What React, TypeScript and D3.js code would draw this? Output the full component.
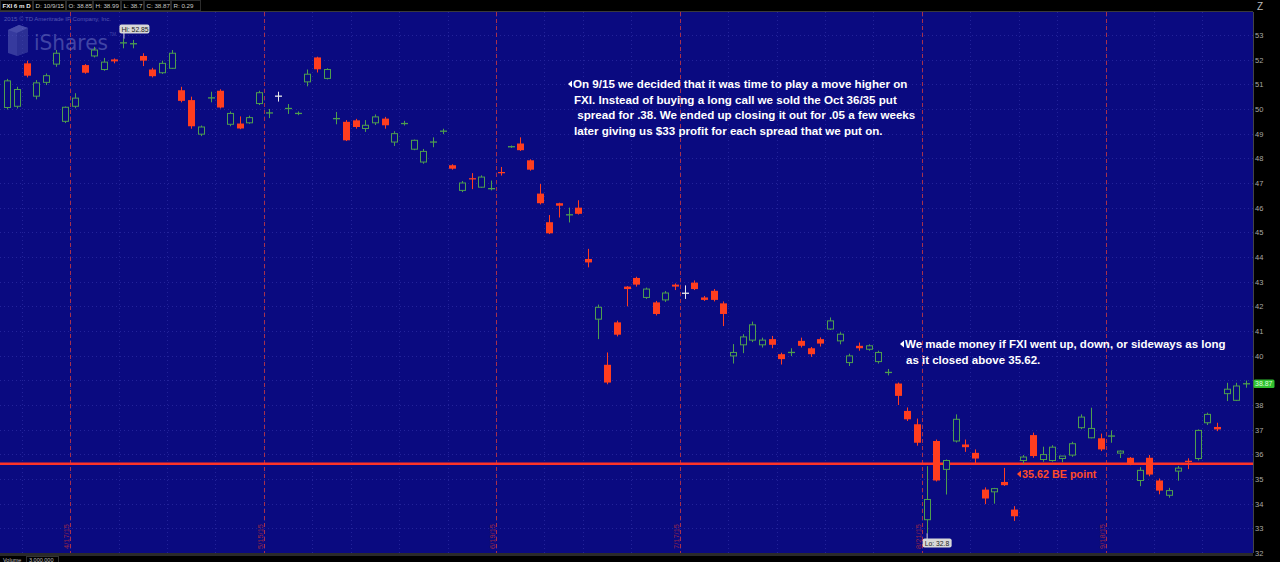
import React from 'react';
import * as d3 from 'd3';

const symbolTitle = 'FXI 6 m D';
const headerFields = ['D: 10/9/15', 'O: 38.85', 'H: 38.99', 'L: 38.7', 'C: 38.87', 'R: 0.29'];
const startDate = '2015-04-09';
const endDate = '2015-10-09';
const holidays = ['2015-05-25', '2015-07-03', '2015-09-07'];
const expirations = ['2015-04-17', '2015-05-15', '2015-06-19', '2015-07-17', '2015-08-21', '2015-09-18'];
const expirationLabels = ['4/17/15', '5/15/15', '6/19/15', '7/17/15', '8/21/15', '9/18/15'];

const opens = [
  50.06, 50.11, 51.85, 50.52, 51.08, 51.82, 49.5, 50.11, 51.78, 52.15,
  51.6, 52.01, 52.66, 52.63, 52.15, 51.6, 51.47, 51.65, 50.76, 50.36,
  48.98, 50.43, 50.74, 49.38, 49.41, 49.44, 50.22, 49.82, 50.52, 50.0,
  49.8, 51.1, 52.09, 51.24, 49.59, 49.48, 49.54, 49.21, 49.44, 49.61,
  48.66, 49.39, 48.37, 47.85, 48.64, 49.08, 47.72, 46.7, 47.19, 46.83,
  46.75, 47.44, 48.45, 48.6, 47.92, 46.57, 45.41, 46.18, 45.69, 46.0,
  43.92, 41.48, 39.63, 41.35, 42.8, 43.15, 42.36, 42.16, 42.26, 42.88,
  42.53, 42.96, 42.36, 42.63, 42.12, 39.99, 40.44, 40.63, 40.44, 40.67,
  40.06, 40.11, 40.6, 40.3, 40.67, 41.08, 40.6, 39.72, 40.4, 40.26,
  39.76, 39.3, 38.87, 37.76, 37.22, 33.35, 36.54, 35.39, 36.54, 36.4,
  36.06, 34.57, 34.48, 34.88, 33.76, 35.75, 36.78, 35.79, 35.75, 35.83,
  35.97, 37.08, 36.67, 36.65, 36.72, 36.05, 35.86, 34.94, 35.86, 34.94,
  34.34, 35.32, 35.75, 35.83, 37.28, 37.11, 38.46, 38.19, 38.85,
];
const highs = [
  51.22, 50.9, 51.96, 51.17, 51.44, 52.39, 50.1, 50.64, 51.82, 52.52,
  52.07, 52.05, 52.85, 52.8, 52.26, 51.67, 51.96, 52.39, 50.9, 50.5,
  49.33, 50.7, 50.8, 49.9, 49.7, 49.73, 50.74, 50.0, 50.7, 50.2,
  49.9, 51.6, 52.12, 51.65, 49.88, 49.55, 49.6, 49.55, 49.78, 49.68,
  49.1, 49.52, 48.76, 48.38, 48.85, 49.2, 47.76, 47.08, 47.4, 47.31,
  47.1, 47.65, 48.52, 48.85, 47.96, 46.96, 45.7, 46.2, 46.0, 46.3,
  44.33, 42.07, 40.13, 41.42, 42.82, 43.2, 42.76, 42.22, 42.62, 42.93,
  42.85, 43.05, 42.42, 42.7, 42.2, 40.47, 40.87, 41.38, 40.73, 40.8,
  40.12, 40.3, 40.73, 40.35, 40.74, 41.55, 40.95, 40.08, 40.53, 40.46,
  40.2, 39.46, 38.91, 37.9, 37.45, 35.52, 36.6, 35.79, 37.62, 36.6,
  36.2, 34.66, 34.64, 35.45, 33.9, 35.97, 36.88, 36.31, 36.37, 35.93,
  36.51, 37.62, 37.89, 36.84, 36.97, 36.16, 35.89, 35.48, 35.97, 35.02,
  34.64, 35.53, 35.84, 37.01, 37.69, 37.28, 38.9, 38.9, 38.99,
];
const lows = [
  49.98, 50.02, 51.28, 50.39, 50.97, 51.71, 49.43, 50.03, 51.43, 52.09,
  51.55, 51.85, 52.46, 52.46, 51.74, 51.28, 51.42, 51.62, 50.27, 49.2,
  48.9, 50.27, 50.02, 49.3, 49.18, 49.4, 50.16, 49.63, 50.3, 49.8,
  49.75, 50.92, 51.48, 51.2, 49.38, 48.7, 49.2, 49.07, 49.35, 49.2,
  48.5, 49.33, 48.33, 47.78, 48.45, 48.98, 47.54, 46.63, 46.75, 46.8,
  46.7, 47.3, 48.42, 48.3, 47.5, 46.13, 44.93, 45.6, 45.4, 45.72,
  43.58, 40.67, 38.84, 40.78, 42.0, 42.8, 42.3, 41.63, 42.18, 42.66,
  42.3, 42.66, 42.22, 42.2, 41.2, 39.68, 40.1, 40.55, 40.33, 40.3,
  39.64, 39.98, 40.33, 39.95, 40.37, 41.04, 40.46, 39.58, 40.2, 40.2,
  39.68, 39.2, 38.0, 37.35, 36.35, 32.8, 34.9, 34.37, 36.48, 36.1,
  35.65, 33.98, 34.0, 34.72, 33.3, 35.62, 35.86, 35.7, 35.7, 35.68,
  35.9, 37.02, 36.65, 36.13, 36.47, 35.85, 35.56, 34.71, 35.11, 34.38,
  34.24, 34.93, 35.4, 35.75, 37.19, 36.94, 38.16, 38.16, 38.7,
];
const closes = [
  51.14, 50.79, 51.35, 51.06, 51.35, 52.26, 50.07, 50.44, 51.47, 52.39,
  51.9, 51.93, 52.7, 52.66, 51.96, 51.33, 51.85, 52.26, 50.33, 49.3,
  49.27, 50.47, 50.06, 49.82, 49.21, 49.65, 50.66, 49.86, 50.52, 50.04,
  49.84, 51.41, 51.61, 51.6, 49.63, 48.73, 49.27, 49.34, 49.68, 49.34,
  49.0, 49.43, 48.73, 48.28, 48.68, 49.12, 47.58, 47.0, 47.15, 47.24,
  46.79, 47.4, 48.49, 48.33, 47.54, 46.18, 44.96, 46.08, 45.73, 45.75,
  43.78, 41.96, 38.91, 40.85, 42.7, 42.88, 42.7, 41.69, 42.54, 42.8,
  42.53, 42.7, 42.26, 42.26, 41.69, 40.13, 40.76, 41.25, 40.63, 40.44,
  39.86, 40.15, 40.4, 40.06, 40.49, 41.41, 40.87, 39.99, 40.3, 40.4,
  40.13, 39.34, 38.37, 37.42, 36.47, 34.17, 34.94, 35.75, 37.42, 36.29,
  35.83, 34.21, 34.61, 34.75, 33.49, 35.89, 35.93, 35.99, 36.29, 35.93,
  36.43, 37.51, 37.05, 36.2, 36.76, 36.13, 35.59, 35.35, 35.18, 34.53,
  34.53, 35.44, 35.68, 36.97, 37.62, 37.01, 38.64, 38.77, 38.87,
];

const priceTicks = d3.range(32, 54);
const breakEven = 35.62;
const breakEvenLabel = '35.62 BE point';
const hiLabel = 'Hi: 52.85';
const loLabel = 'Lo: 32.8';
const lastLabel = '38.87';
const note1 = [
  'On 9/15 we decided that it was time to play a move higher on',
  'FXI. Instead of buying a long call we sold the Oct 36/35 put',
  ' spread for .38. We ended up closing it out for .05 a few weeks',
  'later giving us $33 profit for each spread that we put on.',
];
const note2 = [
  'We made money if FXI went up, down, or sideways as long',
  'as it closed above 35.62.',
];

const W = 1280;
const H = 562;
const plotLeft = 0;
const plotRight = 1253;
const plotTop = 12;
const plotBottom = 553;

const BG = '#0a0a80';
const UP = '#4e9e4e';
const DOWN = '#ff3d1f';
const FONT = '"Liberation Sans", Arial, sans-serif';

const parse = d3.timeParse('%Y-%m-%d');
const fmt = d3.timeFormat('%Y-%m-%d');
const holidaySet = new Set(holidays);
const tradingDays = d3.timeDay
  .range(parse(startDate)!, d3.timeDay.offset(parse(endDate)!, 1))
  .filter((d) => d.getDay() !== 0 && d.getDay() !== 6 && !holidaySet.has(fmt(d)));

export default function App() {
  const n = opens.length;
  const x = d3.scaleLinear().domain([0, n - 1]).range([7.3, 1246]);
  const y = d3.scaleLinear().domain([32, 53.932]).range([plotBottom, plotTop]);

  const dayIndex = new Map(tradingDays.map((d, i) => [fmt(d), i]));
  const weekBreaks = tradingDays
    .map((d, i) => (i > 0 && d.getDay() < tradingDays[i - 1].getDay() ? i - 0.5 : null))
    .filter((v) => v !== null) as number[];
  const expiryPos = expirations.map((e) => (dayIndex.get(e) ?? 0) + 0.5);

  const candles = d3.range(n).map((i) => {
    const o = opens[i];
    const c = closes[i];
    const color = c > o ? UP : c < o ? DOWN : '#e8e8e8';
    const cx = Math.round(x(i)) + 0.5;
    const yTop = y(Math.max(o, c));
    const yBot = y(Math.min(o, c));
    const thin = yBot - yTop < 1.8;
    return (
      <g key={i}>
        <line x1={cx} x2={cx} y1={y(highs[i])} y2={y(lows[i])} stroke={color} strokeWidth={1} />
        {thin ? (
          <line x1={cx - 3.5} x2={cx + 3.5} y1={(yTop + yBot) / 2} y2={(yTop + yBot) / 2} stroke={color} strokeWidth={1.3} />
        ) : c > o ? (
          <rect x={cx - 3} y={yTop} width={6} height={yBot - yTop} fill={BG} stroke={color} strokeWidth={1} />
        ) : (
          <rect x={cx - 3.5} y={yTop} width={7} height={yBot - yTop} fill={color} />
        )}
      </g>
    );
  });

  const arrow = (ax: number, ay: number, fill: string) => (
    <path d={`M${ax},${ay} L${ax + 4},${ay - 3.5} L${ax + 4},${ay + 3.5} Z`} fill={fill} />
  );

  // header box layout
  const headerItems = [symbolTitle, ...headerFields];
  const headerWidths = [33, 33, 27, 28, 23, 27, 30];
  let hx = 0;
  const headerBoxes = headerItems.map((t, i) => {
    const bx = hx;
    hx += headerWidths[i];
    return (
      <g key={t}>
        <rect x={bx + 0.5} y={0.5} width={headerWidths[i] - 1} height={10} fill="#000" stroke="#2c2c2c" />
        <text x={bx + 2.5} y={8} fontSize={6.2} fill={i === 0 ? '#e8e8e8' : '#c8c8c8'} fontWeight={i === 0 ? 'bold' : 'normal'} fontFamily={FONT}>
          {t}
        </text>
      </g>
    );
  });

  const hiIdx = highs.indexOf(d3.max(highs)!);
  const loIdx = lows.indexOf(d3.min(lows)!);
  const lastY = y(closes[n - 1]);

  return (
    <svg width={W} height={H} style={{ position: 'absolute', left: 0, top: 0, background: '#000' }} fontFamily={FONT}>
      <rect x={0} y={0} width={W} height={H} fill="#000" />
      <rect x={plotLeft} y={plotTop} width={plotRight - plotLeft} height={plotBottom - plotTop} fill={BG} />
      <line x1={0} x2={plotRight} y1={plotTop - 0.5} y2={plotTop - 0.5} stroke="#3a3a3a" />

      {/* grid */}
      {priceTicks.map((t) => (
        <line key={'h' + t} x1={plotLeft} x2={plotRight} y1={Math.round(y(t)) + 0.5} y2={Math.round(y(t)) + 0.5} stroke="#23239a" strokeDasharray="1,3" />
      ))}
      {weekBreaks.map((b) => (
        <line key={'v' + b} x1={Math.round(x(b)) + 0.5} x2={Math.round(x(b)) + 0.5} y1={plotTop} y2={plotBottom} stroke="#23239a" strokeDasharray="1,3" />
      ))}

      {/* expiration lines */}
      {expiryPos.map((p, i) => (
        <g key={'e' + i}>
          <line x1={Math.round(x(p)) + 0.5} x2={Math.round(x(p)) + 0.5} y1={plotTop} y2={plotBottom} stroke="#a8304c" strokeDasharray="4,3" />
          <text transform={`translate(${Math.round(x(p)) - 1},${plotBottom - 4}) rotate(-90)`} fontSize={7.5} fill="#9a2848">
            {expirationLabels[i]}
          </text>
        </g>
      ))}

      {/* watermark */}
      <text x={4} y={20.5} fontSize={6} fill="#5656b0">2015 © TD Ameritrade IP Company, Inc.</text>
      <g opacity={0.55}>
        <path d="M8,30 L19,25 L28,28 L28,52 L17,56 L8,53 Z" fill="#5a62b8" />
        <path d="M8,30 L19,25 L28,28 L17,33 Z" fill="#7880cc" />
        <path d="M17,33 L28,28 L28,52 L17,56 Z" fill="#464ea6" />
        <text x={34} y={50} fontSize={22} textLength={74} lengthAdjust="spacingAndGlyphs" fill="#6d74c4" fontFamily='"DejaVu Sans", sans-serif'>iShares</text>
        <text x={109.5} y={36} fontSize={4.5} fill="#6d74c4">TM</text>
      </g>

      {/* break-even line */}
      <line x1={plotLeft} x2={plotRight} y1={y(breakEven)} y2={y(breakEven)} stroke="#ff3328" strokeWidth={2.5} />

      {candles}

      {/* Hi / Lo labels */}
      <g>
        <line x1={x(hiIdx) + 0.5} x2={x(hiIdx) + 0.5} y1={y(highs[hiIdx])} y2={33} stroke="#d8d8d8" />
        <rect x={x(hiIdx) - 4} y={24.5} width={30} height={9} rx={2} fill="#d8d8d8" />
        <text x={x(hiIdx) - 2} y={31.5} fontSize={6.8} fill="#222">{hiLabel}</text>
      </g>
      <g>
        <line x1={x(loIdx) + 0.5} x2={x(loIdx) + 0.5} y1={y(lows[loIdx])} y2={539} stroke="#d8d8d8" />
        <rect x={x(loIdx) - 4} y={538.5} width={29} height={9} rx={2} fill="#d8d8d8" />
        <text x={x(loIdx) - 2} y={545.5} fontSize={6.8} fill="#222">{loLabel}</text>
      </g>

      {/* annotations */}
      {arrow(568, 84, '#fff')}
      {note1.map((t, i) => (
        <text key={'n1' + i} x={i === 0 ? 573 : 574} y={88 + i * 15.5} fontSize={11.6} fontWeight="bold" fill="#fff" xmlSpace="preserve">
          {t}
        </text>
      ))}
      {arrow(900, 344, '#fff')}
      {note2.map((t, i) => (
        <text key={'n2' + i} x={i === 0 ? 905 : 906} y={348 + i * 16} fontSize={11.5} fontWeight="bold" fill="#fff">
          {t}
        </text>
      ))}
      {arrow(1017, 474, '#ff4a2a')}
      <text x={1022} y={478} fontSize={10.8} fontWeight="bold" fill="#ff4a2a">{breakEvenLabel}</text>

      {/* right axis */}
      <rect x={plotRight} y={0} width={W - plotRight} height={H} fill="#000" />
      <line x1={plotRight + 0.5} x2={plotRight + 0.5} y1={plotTop} y2={plotBottom} stroke="#444" />
      {priceTicks
        .filter((t) => Math.abs(y(t) - lastY) > 8)
        .map((t) => (
          <text key={'t' + t} x={plotRight + 2} y={y(t) + 3} fontSize={7.5} fill="#a8a8a8">{t}</text>
        ))}
      <rect x={plotRight + 0.5} y={lastY - 4} width={21} height={8.5} rx={1.5} fill="#30c030" />
      <text x={plotRight + 2} y={lastY + 2.8} fontSize={7} fill="#d8ffd8">{lastLabel}</text>
      <text x={1257} y={10} fontSize={10} fill="#bbb">Z</text>

      {/* header */}
      <rect x={0} y={0} width={plotRight} height={11} fill="#000" />
      {headerBoxes}

      {/* bottom strip */}
      <rect x={0} y={plotBottom} width={plotRight} height={3} fill="#2a2a2a" />
      <rect x={0} y={plotBottom + 3} width={plotRight} height={H - plotBottom - 3} fill="#000" />
      <text x={3} y={561.5} fontSize={5.5} fill="#bbb">Volume</text>
      <rect x={26.5} y={556.5} width={32} height={6} fill="none" stroke="#333" />
      <text x={29} y={561.5} fontSize={5.5} fill="#bbb">3,000,000</text>
    </svg>
  );
}
